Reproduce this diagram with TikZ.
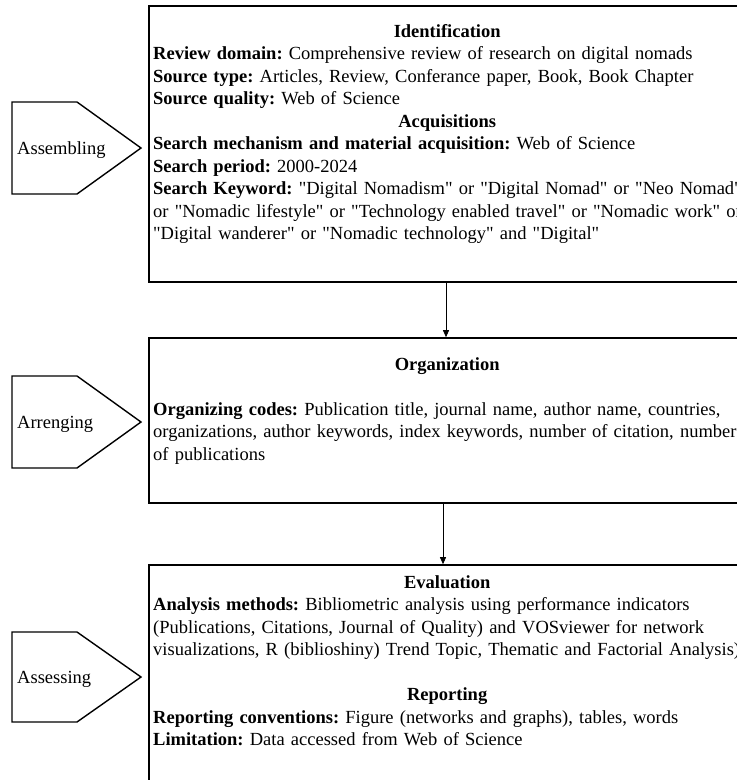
\documentclass[tikz,border=0pt]{standalone}
\usepackage{fontspec}
\setmainfont{Liberation Serif}[Ligatures=TeXOff]
\usetikzlibrary{arrows.meta}

\newcommand{\stagehead}[1]{\makebox[588pt]{\textbf{#1}}}

\begin{document}
\frenchspacing
\begin{tikzpicture}[x=1pt,y=-1pt,
  stagebox/.style={draw, line width=1.6pt, minimum width=596pt},
  stagetext/.style={anchor=base west, inner sep=0pt, text width=700pt, align=left,
    font=\fontsize{18.5}{22.5}\selectfont},
  phase/.style={line width=1.4pt, line join=miter},
  phaselabel/.style={anchor=base west, inner sep=0pt, font=\fontsize{18.5}{22.5}\selectfont},
  flow/.style={-{Triangle[length=7pt,width=6pt]}, line width=0.8pt}]
  \useasboundingbox (0,0) rectangle (737,780);
  \clip (0,0) rectangle (737,780);
  % stage boxes
  \node[stagebox, minimum height=276pt] (ident) at (447,144) {};
  \node[stagebox, minimum height=165pt] (organ) at (447,420.5) {};
  \node[stagebox, minimum height=240pt] (evalu) at (447,685) {};
  \draw[flow] ([xshift=-1pt]ident.south) -- ([xshift=-1pt]organ.north);
  \draw[flow] ([xshift=-4pt]organ.south) -- ([xshift=-4pt]evalu.north);
  % box texts
  \node[stagetext] (identtxt) at (153,37) {\stagehead{Identification}\\
    \textbf{Review domain:} Comprehensive review of research on digital nomads\\
    \textbf{Source type:} Articles, Review, Conferance paper, Book, Book Chapter\\
    \textbf{Source quality:} Web of Science\\
    \stagehead{Acquisitions}\\
    \textbf{Search mechanism and material acquisition:} Web of Science\\
    \textbf{Search period:} 2000-2024\\
    \textbf{Search Keyword:} "Digital Nomadism" or "Digital Nomad" or "Neo Nomad"\\
    or "Nomadic lifestyle" or "Technology enabled travel" or "Nomadic work" or\\
    "Digital wanderer" or "Nomadic technology" and "Digital"};
  \node[stagetext] (organtxt) at (153,370) {\stagehead{Organization}\\[22.5pt]
    \textbf{Organizing codes:} Publication title, journal name, author name, countries,\\
    organizations, author keywords, index keywords, number of citation, number\\
    of publications};
  \node[stagetext] (evalutxt) at (153,588) {\stagehead{Evaluation}\\
    \textbf{Analysis methods:} Bibliometric analysis using performance indicators\\
    (Publications, Citations, Journal of Quality) and VOSviewer for network\\
    visualizations, R (biblioshiny) Trend Topic, Thematic and Factorial Analysis)\\[22.5pt]
    \stagehead{Reporting}\\
    \textbf{Reporting conventions:} Figure (networks and graphs), tables, words\\
    \textbf{Limitation:} Data accessed from Web of Science};
  % phase pentagons
  \draw[phase] (12,102) -- (77,102) -- (141,148) -- (77,194) -- (12,194) -- cycle;
  \draw[phase] (12,376) -- (77,376) -- (141,422) -- (77,468) -- (12,468) -- cycle;
  \draw[phase] (12,632) -- (77,632) -- (141,677) -- (77,722) -- (12,722) -- cycle;
  \node[phaselabel] (assemb) at (17,154) {Assembling};
  \node[phaselabel] (arrang) at (17,428) {Arrenging};
  \node[phaselabel] (assess) at (17,683) {Assessing};
\end{tikzpicture}
\end{document}
